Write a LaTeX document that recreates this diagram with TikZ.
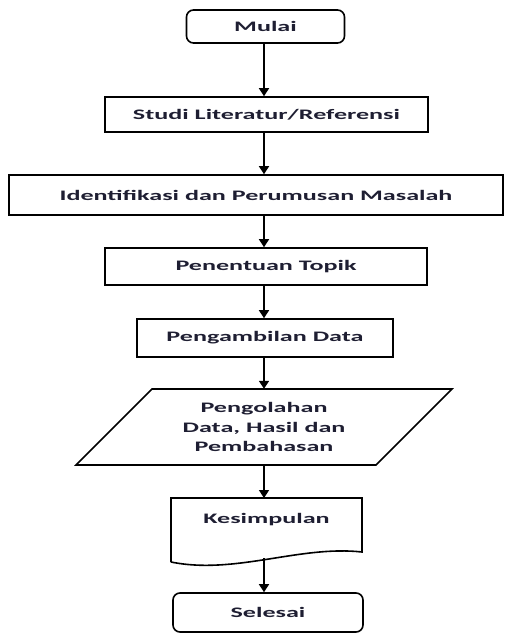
\documentclass[tikz,border=0pt]{standalone}
\usepackage{fontspec}
\setmainfont[FakeStretch=1.8]{Carlito}
\usetikzlibrary{arrows.meta,calc}
\definecolor{txt}{RGB}{30,30,50}
\begin{document}
\begin{tikzpicture}[x=1pt,y=-1pt,
  lbl/.style={font=\bfseries\fontsize{14.5}{19.5}\selectfont,text=txt,align=center,inner sep=0pt},
  box/.style={lbl,draw=black,line width=1.6pt,rectangle},
  term/.style={box,rounded corners=7pt},
  arr/.style={draw=black,line width=1.6pt,-{Triangle[length=8pt,width=10pt]}},
  shp/.style={draw=black,line width=1.6pt,line join=miter}]
\useasboundingbox (0,0) rectangle (505,634);
\coordinate (ax) at (264,0);
\node[term,minimum width=158pt,minimum height=33pt] (mulai) at (265.5,26.5) {Mulai};
\node[box,minimum width=323pt,minimum height=35pt] (studi) at (266.5,114.5) {Studi Literatur/Referensi};
\node[box,minimum width=494pt,minimum height=40pt] (ident) at (256,195) {Identifikasi dan Perumusan Masalah};
\node[box,minimum width=322pt,minimum height=37pt] (topik) at (266,266.5) {Penentuan Topik};
\node[box,minimum width=256pt,minimum height=38pt] (data) at (265,338) {Pengambilan Data};
% parallelogram
\draw[shp] (152,389) -- (452,389) -- (376,465) -- (76,465) -- cycle;
\node[lbl,minimum width=300pt,minimum height=76pt] (olah) at (264,427) {Pengolahan\\Data, Hasil dan\\Pembahasan};
% document shape
\draw[shp] (171,562) -- (171,498) -- (362,498) -- (362,552)
  .. controls (300,545) and (235,575) .. (171,562);
\node[lbl] (kes) at (266.5,520) {Kesimpulan};
\coordinate (kestop) at (266,498);
\coordinate (kesbot) at (266,558);
\node[term,minimum width=190pt,minimum height=39pt] (selesai) at (268,612.5) {Selesai};
% connectors
\draw[arr] (mulai.south -| ax) -- (studi.north -| ax);
\draw[arr] (studi.south -| ax) -- (ident.north -| ax);
\draw[arr] (ident.south -| ax) -- (topik.north -| ax);
\draw[arr] (topik.south -| ax) -- (data.north -| ax);
\draw[arr] (data.south -| ax) -- (olah.north -| ax);
\draw[arr] (olah.south -| ax) -- (kestop -| ax);
\draw[arr] (kesbot -| ax) -- (selesai.north -| ax);
\end{tikzpicture}
\end{document}
